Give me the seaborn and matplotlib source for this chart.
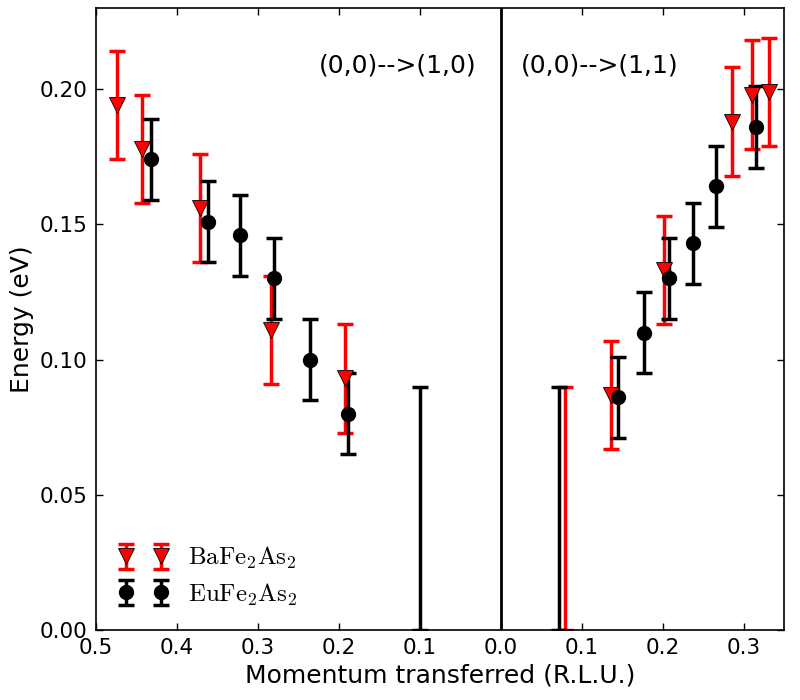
import numpy as np
import matplotlib
matplotlib.use("Agg")
import matplotlib.pyplot as plt
import seaborn as sns
from matplotlib.ticker import FuncFormatter, MultipleLocator

# ---- data (momentum: negative = (0,0)->(1,0) branch, positive = (0,0)->(1,1) branch)
ba_q = [-0.474, -0.443, -0.371, -0.284, -0.192, 0.136, 0.202, 0.286, 0.311, 0.331]
ba_E = [0.194, 0.178, 0.156, 0.111, 0.093, 0.087, 0.133, 0.188, 0.198, 0.199]
ba_err = [0.020, 0.020, 0.020, 0.020, 0.020, 0.020, 0.020, 0.020, 0.020, 0.020]

eu_q = [-0.432, -0.362, -0.322, -0.280, -0.236, -0.189, 0.145, 0.177, 0.208, 0.237, 0.266, 0.315]
eu_E = [0.174, 0.151, 0.146, 0.130, 0.100, 0.080, 0.086, 0.110, 0.130, 0.143, 0.164, 0.186]
eu_err = [0.015, 0.015, 0.015, 0.015, 0.015, 0.015, 0.015, 0.015, 0.015, 0.015, 0.015, 0.015]

# upper-limit ranges (no measured peak)
ba_lim_q = [0.0795]
eu_lim_q = [-0.100, 0.072]
lim_low = 0.0
lim_high = 0.09

branch_labels = ["(0,0)-->(1,0)", "(0,0)-->(1,1)"]
xticks = [-0.5, -0.4, -0.3, -0.2, -0.1, 0.0, 0.1, 0.2, 0.3]

sns.set_style("ticks")
plt.rcParams['font.family'] = ['DejaVu Sans']
plt.rcParams['mathtext.fontset'] = 'cm'
for k in ['text.color', 'axes.labelcolor', 'xtick.color', 'ytick.color', 'axes.edgecolor']:
    plt.rcParams[k] = 'black'

fig = plt.figure(figsize=(8, 7), dpi=100)
ax = fig.add_axes([0.12, 0.1, 0.86, 0.8886])

ekw = dict(elinewidth=2.5, capsize=6, capthick=2.5)

h_ba = ax.errorbar(ba_q, ba_E, yerr=ba_err, fmt='v', color='red', ms=11,
                   mec='black', ecolor='red', label=r'$\mathrm{BaFe_2As_2}$', **ekw)
h_ba.lines[0].set_markeredgewidth(0.6)
ax.errorbar(ba_lim_q, [lim_low] * len(ba_lim_q),
            yerr=[[0] * len(ba_lim_q), [lim_high - lim_low] * len(ba_lim_q)],
            fmt='none', ecolor='red', **ekw)

h_eu = ax.errorbar(eu_q, eu_E, yerr=eu_err, fmt='o', color='black', ms=10,
                   ecolor='black', label=r'$\mathrm{EuFe_2As_2}$', **ekw)
ax.errorbar(eu_lim_q, [lim_low] * len(eu_lim_q),
            yerr=[[0] * len(eu_lim_q), [lim_high - lim_low] * len(eu_lim_q)],
            fmt='none', ecolor='black', **ekw)

ax.axvline(0, color='black', lw=2)

ax.set_xlim(-0.5, 0.35)
ax.set_ylim(0, 0.23)
ax.set_xticks(xticks)
ax.xaxis.set_major_formatter(FuncFormatter(lambda v, p: f"{abs(v):.1f}"))
ax.yaxis.set_major_locator(MultipleLocator(0.05))
ax.yaxis.set_major_formatter(FuncFormatter(lambda v, p: f"{v:.2f}"))
ax.tick_params(direction='in', top=True, right=True, length=5, width=1,
               labelsize=15.5, pad=6)
for s in ax.spines.values():
    s.set_linewidth(1.2)

ax.set_xlabel("Momentum transferred (R.L.U.)", fontsize=18)
ax.set_ylabel("Energy (eV)", fontsize=18)

ax.text(-0.03, 0.2088, branch_labels[0], ha='right', va='center', fontsize=18)
ax.text(0.025, 0.2088, branch_labels[1], ha='left', va='center', fontsize=18)

ax.legend(handles=[h_ba, h_eu], loc='lower left', numpoints=2, frameon=False,
          fontsize=18, bbox_to_anchor=(0.0, 0.0), handletextpad=0.8,
          labelspacing=0.4)

fig.savefig("out.png", dpi=100)
